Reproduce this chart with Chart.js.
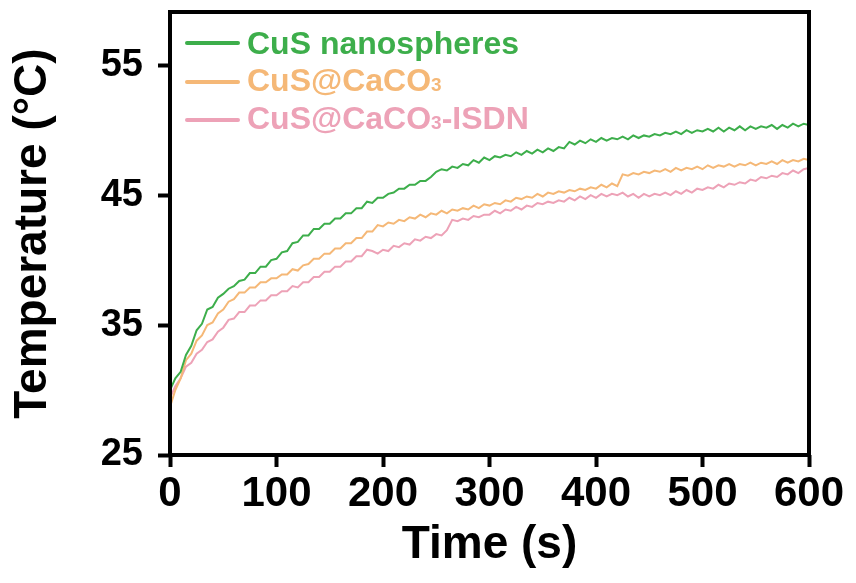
<!DOCTYPE html>
<html>
<head>
<meta charset="utf-8">
<script src="https://cdn.jsdelivr.net/npm/chart.js@4.4.1/dist/chart.umd.min.js"></script>
<style>
  html, body { margin: 0; padding: 0; background: #fff; }
  #wrap { position: relative; width: 856px; height: 583px; }
  #legend { position: absolute; left: 0; top: 0; font-family: "Liberation Sans", Arial, sans-serif; font-weight: bold; }
  .row { position: absolute; left: 185px; height: 40px; display: flex; align-items: center; white-space: nowrap; font-size: 32px; line-height: 40px; }
  .row .ln { width: 55px; height: 4px; border-radius: 2px; margin-right: 7px; }
  .row sub { font-size: 19px; vertical-align: baseline; }
</style>
</head>
<body>
<div id="wrap">
  <canvas id="chart" width="856" height="583"></canvas>
  <div id="legend"></div>
</div>
<script>
// --- DATA (one sample every 5 s) ---
const timeSec = Array.from({ length: 121 }, (_, i) => i * 5);
const xTicks = [0, 100, 200, 300, 400, 500, 600];
const yTicks = [25, 35, 45, 55];

const cusNano = [
    30.0, 30.9, 31.4, 32.7, 33.4, 34.6, 35.1, 36.2, 36.4, 37.1,
    37.4, 37.8, 38.0, 38.4, 38.5, 39.0, 39.0, 39.5, 39.5, 40.0,
    40.1, 40.6, 40.7, 41.3, 41.4, 41.9, 41.9, 42.4, 42.4, 42.8,
    42.8, 43.2, 43.2, 43.6, 43.6, 44.0, 44.0, 44.5, 44.4, 44.8,
    44.8, 45.1, 45.2, 45.5, 45.5, 45.8, 45.8, 46.1, 46.1, 46.4,
    46.8, 47.0, 46.9, 47.2, 47.1, 47.4, 47.3, 47.7, 47.5, 47.9,
    47.7, 48.0, 47.9, 48.1, 48.0, 48.3, 48.1, 48.4, 48.2, 48.5,
    48.3, 48.6, 48.4, 48.7, 48.6, 49.1, 48.9, 49.2, 49.0, 49.3,
    49.1, 49.4, 49.2, 49.4, 49.3, 49.5, 49.3, 49.6, 49.4, 49.6,
    49.5, 49.7, 49.6, 49.8, 49.7, 49.9, 49.7, 50.0, 49.8, 50.0,
    49.9, 50.1, 49.9, 50.2, 49.9, 50.2, 50.0, 50.3, 50.0, 50.3,
    50.1, 50.3, 50.2, 50.4, 50.1, 50.4, 50.2, 50.5, 50.3, 50.5,
    50.4
];
const cusCaco3 = [
    28.7, 30.0, 30.9, 32.3, 32.8, 33.8, 34.2, 35.0, 35.2, 35.9,
    36.2, 36.8, 37.0, 37.5, 37.5, 37.9, 37.9, 38.3, 38.3, 38.6,
    38.6, 38.9, 38.9, 39.3, 39.2, 39.6, 39.7, 40.1, 40.1, 40.5,
    40.5, 40.9, 40.9, 41.3, 41.3, 41.7, 41.7, 42.2, 42.2, 42.7,
    42.6, 42.9, 42.8, 43.1, 43.0, 43.3, 43.2, 43.5, 43.3, 43.6,
    43.5, 43.8, 43.6, 43.9, 43.8, 44.0, 43.9, 44.2, 44.0, 44.3,
    44.2, 44.4, 44.3, 44.6, 44.5, 44.8, 44.7, 44.9, 44.8, 45.1,
    44.9, 45.2, 45.1, 45.3, 45.2, 45.4, 45.3, 45.5, 45.4, 45.6,
    45.5, 45.8, 45.6, 45.9, 45.7, 46.6, 46.5, 46.7, 46.6, 46.8,
    46.7, 46.9, 46.8, 47.0, 46.8, 47.1, 46.9, 47.1, 47.0, 47.2,
    47.0, 47.3, 47.1, 47.3, 47.2, 47.4, 47.2, 47.4, 47.3, 47.5,
    47.3, 47.5, 47.4, 47.6, 47.4, 47.7, 47.5, 47.7, 47.6, 47.8,
    47.7
];
const cusCaco3Isdn = [
    29.4, 30.3, 30.9, 31.8, 32.1, 32.8, 33.1, 33.7, 33.9, 34.5,
    34.8, 35.4, 35.5, 36.0, 36.0, 36.5, 36.5, 36.9, 36.9, 37.3,
    37.3, 37.6, 37.6, 38.0, 37.9, 38.3, 38.3, 38.7, 38.7, 39.1,
    39.1, 39.5, 39.5, 39.9, 39.9, 40.3, 40.3, 40.8, 40.7, 40.5,
    40.8, 40.7, 41.1, 41.0, 41.3, 41.2, 41.6, 41.5, 41.8, 41.7,
    42.0, 41.9, 42.3, 43.1, 43.0, 43.2, 43.1, 43.4, 43.3, 43.5,
    43.5, 43.8, 43.6, 43.9, 43.8, 44.1, 43.9, 44.2, 44.1, 44.4,
    44.3, 44.5, 44.4, 44.6, 44.5, 44.8, 44.6, 44.9, 44.7, 45.0,
    44.8, 45.1, 44.9, 45.1, 45.0, 45.2, 44.9, 45.1, 44.8, 45.1,
    44.9, 45.1, 45.0, 45.2, 45.0, 45.3, 45.1, 45.4, 45.2, 45.5,
    45.4, 45.6, 45.5, 45.8, 45.6, 45.9, 45.8, 46.0, 45.9, 46.2,
    46.1, 46.4, 46.3, 46.5, 46.4, 46.7, 46.6, 46.9, 46.7, 47.0,
    47.1
];

const FONT = '"Liberation Sans", Arial, sans-serif';
const colors = { green: '#3DAE4B', orange: '#F5B877', pink: '#EDA2B7' };

const series = [
    { label: 'CuS nanospheres', html: 'CuS nanospheres', values: cusNano, color: colors.green },
    { label: 'CuS@CaCO3', html: 'CuS@CaCO<sub>3</sub>', values: cusCaco3, color: colors.orange },
    { label: 'CuS@CaCO3-ISDN', html: 'CuS@CaCO<sub>3</sub>-ISDN', values: cusCaco3Isdn, color: colors.pink }
];

// --- legend (html so the subscripts stay real text) ---
const legendTops = [23, 62, 100];
const legendEl = document.getElementById('legend');
series.forEach((s, i) => {
    const row = document.createElement('div');
    row.className = 'row';
    row.style.top = legendTops[i] + 'px';
    row.style.color = s.color;
    row.innerHTML = '<span class="ln" style="background:' + s.color + '"></span><span>' + s.html + '</span>';
    legendEl.appendChild(row);
});

// frame around the plot area
const framePlugin = {
    id: 'frame',
    afterDatasetsDraw(chart) {
        const { ctx, chartArea: a } = chart;
        ctx.save();
        ctx.strokeStyle = '#000';
        ctx.lineWidth = 4;
        ctx.strokeRect(a.left, a.top, a.right - a.left, a.bottom - a.top);
        ctx.restore();
    }
};

const axisGrid = { drawOnChartArea: false, drawTicks: true, tickLength: 12, tickWidth: 4, tickColor: '#000', color: '#000' };

new Chart(document.getElementById('chart'), {
    type: 'line',
    data: {
        datasets: series.map(s => ({
            label: s.label,
            data: s.values.map((v, i) => ({ x: timeSec[i], y: v })),
            borderColor: s.color,
            borderWidth: 2,
            pointRadius: 0,
            tension: 0,
            fill: false
        }))
    },
    options: {
        responsive: false,
        devicePixelRatio: 1,
        animation: false,
        layout: { padding: { top: 12, right: 47, left: 0, bottom: 0 } },
        plugins: { legend: { display: false }, tooltip: { enabled: false } },
        scales: {
            x: {
                type: 'linear',
                min: 0,
                max: 600,
                grid: axisGrid,
                border: { display: false },
                afterBuildTicks: scale => { scale.ticks = xTicks.map(v => ({ value: v })); },
                afterFit: scale => { scale.height = 128; },
                ticks: { color: '#000', padding: 2, maxRotation: 0, font: { family: FONT, size: 42, weight: 'bold' } },
                title: { display: true, text: 'Time (s)', color: '#000', padding: { bottom: 10 }, font: { family: FONT, size: 46, weight: 'bold' } }
            },
            y: {
                type: 'linear',
                min: 25,
                max: 59.1,
                grid: axisGrid,
                border: { display: false },
                afterBuildTicks: scale => { scale.ticks = yTicks.map(v => ({ value: v })); },
                afterFit: scale => { scale.width = 170; scale.paddingTop = 0; scale.paddingBottom = 0; },
                ticks: { color: '#000', padding: 15, font: { family: FONT, size: 38, weight: 'bold' } },
                title: { display: true, text: 'Temperature (\u00B0C)', color: '#000', padding: { top: 6 }, font: { family: FONT, size: 46, weight: 'bold' } }
            }
        }
    },
    plugins: [framePlugin]
});
</script>
</body>
</html>
